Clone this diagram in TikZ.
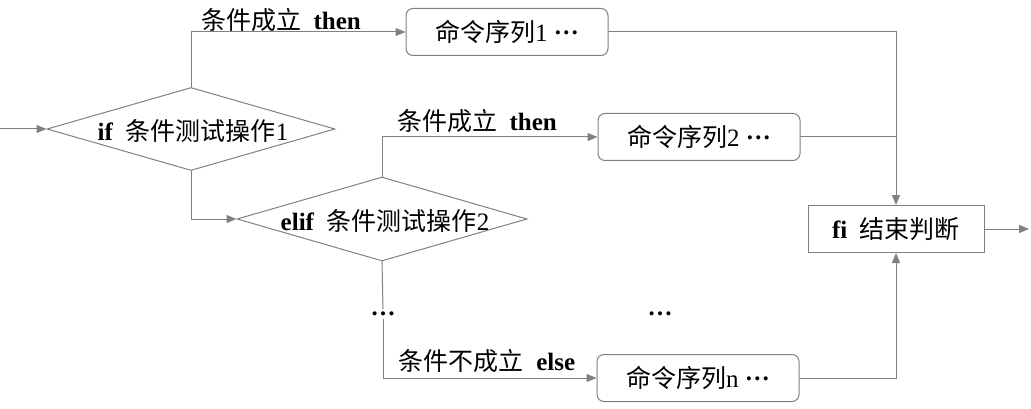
\documentclass[tikz,border=0pt]{standalone}
\usepackage{fontspec}
\setmainfont{Liberation Serif}
\newfontfamily\cjk{Noto Sans CJK SC}
\usetikzlibrary{shapes.geometric,arrows.meta}
\definecolor{linegray}{RGB}{128,128,128}
\newcommand\middots{\raisebox{0.3em}{\textbf{…}}}
\begin{document}
\begin{tikzpicture}[x=1pt,y=-1pt,line cap=round,>={Triangle[length=10pt,width=8pt]},
		every node/.style={font=\fontsize{25}{29}\selectfont},
		flow/.style={draw=linegray,line width=1pt},
		dia/.style={draw=linegray,line width=1pt,shape=diamond,inner sep=0pt},
		cmd/.style={draw=linegray,line width=1pt,rounded corners=7pt,minimum width=202pt,minimum height=47pt},
		dotsnode/.style={inner sep=3pt}]
	\useasboundingbox (0,0) rectangle (1031,409);
	% tests
	\node[dia,minimum width=288pt,minimum height=83pt] (d1) at (191,129) {};
	\node (d1text) at (193,131) {\textbf{if}\ \ {\cjk 条件测试操作}1};
	\node[dia,minimum width=290pt,minimum height=84pt] (d2) at (382,219) {};
	\node (d2text) at (385,221) {\textbf{elif}\ \ {\cjk 条件测试操作}2};
	% command boxes
	\node[cmd] (b1) at (507,32) {{\cjk 命令序列}1 \middots};
	\node[cmd] (b2) at (699,137) {{\cjk 命令序列}2 \middots};
	\node[cmd] (bn) at (698,378) {{\cjk 命令序列}n \middots};
	\node[draw=linegray,line width=1pt,minimum width=176pt,minimum height=47pt] (fi) at (896,229) {\textbf{fi}\ \ {\cjk 结束判断}};
	\node[dotsnode] (dots1) at (383,314) {\textbf{…}};
	\node[dotsnode] (dots2) at (660,314) {\textbf{…}};
	\coordinate (in) at (0,129);
	\coordinate (out) at (1029,229);
	% labels
	\node (l1) at (281,20) {{\cjk 条件成立}\ \ \textbf{then}};
	\node (l2) at (477,121) {{\cjk 条件成立}\ \ \textbf{then}};
	\node (l3) at (487,361) {{\cjk 条件不成立}\ \ \textbf{else}};
	% connectors
	\draw[flow,->] (in) -- (d1.west);
	\draw[flow,->] (d1.north) |- (b1.west);
	\draw[flow,->] (d1.south) |- (d2.west);
	\draw[flow,->] (d2.north) |- (b2.west);
	\draw[flow] (d2.south) -- (dots1.north);
	\draw[flow,->] (dots1.south) |- (bn.west);
	\draw[flow,->] (b1.east) -| (fi.north);
	\draw[flow] (b2.east) -- (b2.east -| fi.north);
	\draw[flow,->] (bn.east) -| (fi.south);
	\draw[flow,->] (fi.east) -- (out);
\end{tikzpicture}
\end{document}
